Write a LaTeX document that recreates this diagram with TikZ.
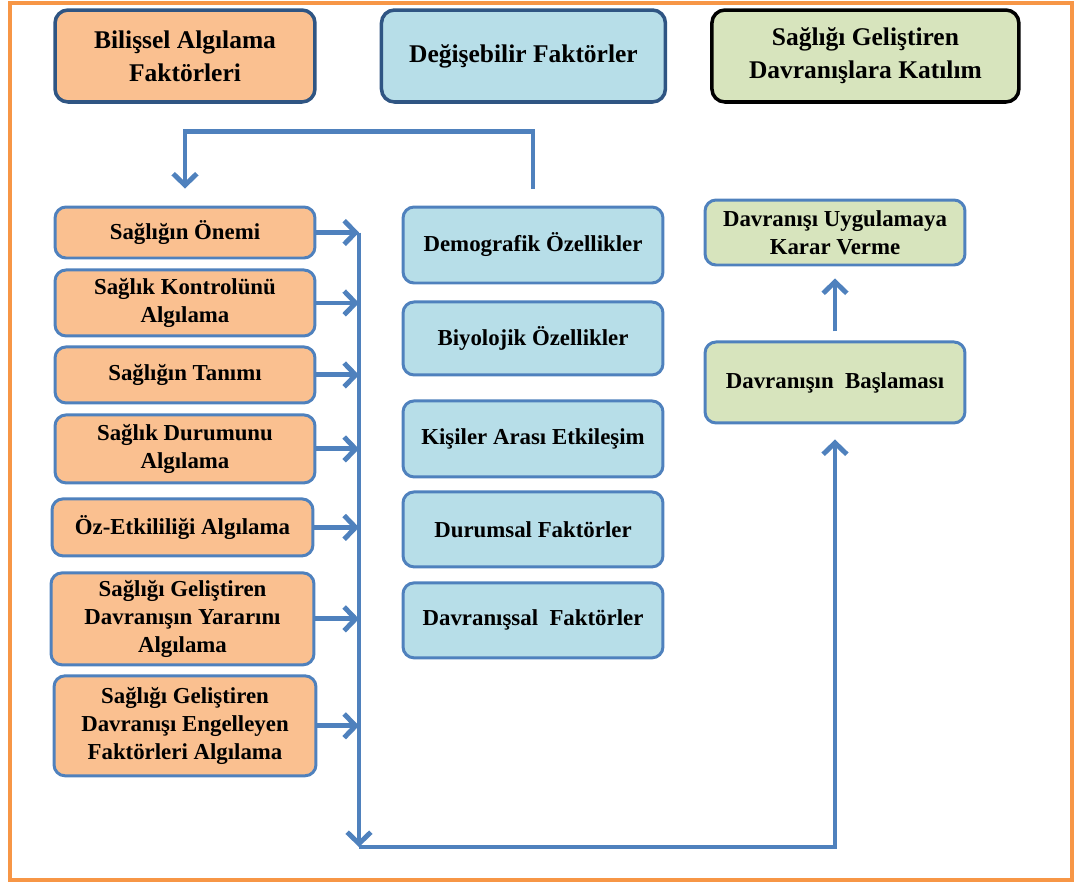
\documentclass[tikz,border=0pt]{standalone}
\usepackage{fontspec}
\setmainfont{Liberation Serif}
\usetikzlibrary{arrows.meta, positioning}

\definecolor{peach}{HTML}{FAC090}
\definecolor{aqua}{HTML}{B7DEE8}
\definecolor{sage}{HTML}{D7E4BD}
\definecolor{lineblue}{HTML}{4F81BD}
\definecolor{darkblue}{HTML}{2F5583}
\definecolor{framecol}{HTML}{F79646}

\begin{document}
\begin{tikzpicture}[x=0.02cm, y=-0.02cm,
    header/.style={rectangle, rounded corners=0.26cm, minimum height=1.84cm, text centered, align=center, line width=2pt, font=\bfseries\fontsize{14.5}{18.7}\selectfont},
    factor/.style={rectangle, rounded corners=0.22cm, minimum width=5.2cm, text centered, align=center, draw=lineblue, line width=1.7pt, font=\bfseries\fontsize{13}{15.9}\selectfont},
    arrow/.style={draw=lineblue, line width=2.8pt, -{Straight Barb[length=6.5pt, width=13.5pt]}}
    ]

    \useasboundingbox (0,0) rectangle (1082,883);
    \draw[framecol, line width=1.8pt] (10,3) rectangle (1072,880);

    % 标题
    \node (cognitive) [header, fill=peach, draw=darkblue, minimum width=5.2cm] at (185,56) {Bilişsel Algılama\\Faktörleri};
    \node (modifying) [header, fill=aqua, draw=darkblue, minimum width=5.68cm, right=1.26cm of cognitive] {Değişebilir Faktörler};
    \node (participation) [header, fill=sage, draw=black, minimum width=6.14cm, right=0.86cm of modifying] {Sağlığı Geliştiren\\Davranışlara Katılım};

    % 左列
    \node (importance) [factor, fill=peach, minimum height=1.02cm] at (185,232.5) {Sağlığın Önemi};
    \node (control) [factor, fill=peach, minimum height=1.32cm, below=0.18cm of importance] {Sağlık Kontrolünü\\Algılama};
    \node (definition) [factor, fill=peach, minimum height=1.12cm, below=0.16cm of control] {Sağlığın Tanımı};
    \node (status) [factor, fill=peach, minimum height=1.36cm, below=0.18cm of definition] {Sağlık Durumunu\\Algılama};
    \node (efficacy) [factor, fill=peach, minimum height=1.14cm, minimum width=5.22cm, below=0.26cm of status, xshift=-0.05cm] {Öz-Etkililiği Algılama};
    \node (benefits) [factor, fill=peach, minimum height=1.84cm, minimum width=5.26cm, below=0.28cm of efficacy] {Sağlığı Geliştiren\\Davranışın Yararını\\Algılama};
    \node (barriers) [factor, fill=peach, minimum height=2cm, minimum width=5.24cm, below=0.16cm of benefits, xshift=0.05cm] {Sağlığı Geliştiren\\Davranışı Engelleyen\\Faktörleri Algılama};

    % 中列
    \node (demographic) [factor, fill=aqua, minimum height=1.52cm] at (533,245) {Demografik Özellikler};
    \node (biological) [factor, fill=aqua, minimum height=1.46cm, below=0.32cm of demographic] {Biyolojik Özellikler};
    \node (interpersonal) [factor, fill=aqua, minimum height=1.52cm, below=0.46cm of biological] {Kişiler Arası Etkileşim};
    \node (situational) [factor, fill=aqua, minimum height=1.5cm, below=0.24cm of interpersonal] {Durumsal Faktörler};
    \node (behavioral) [factor, fill=aqua, minimum height=1.5cm, below=0.26cm of situational] {Davranışsal\ \ Faktörler};

    % 右列
    \node (decision) [factor, fill=sage, minimum height=1.3cm] at (835,232.5) {Davranışı Uygulamaya\\Karar Verme};
    \node (onset) [factor, fill=sage, minimum height=1.62cm, below=1.48cm of decision] {Davranışın\ \ Başlaması};

    % 连接线
    \coordinate (bustop) at (359,232.5);
    \coordinate (buscorner) at (359,847);

    \draw [arrow] ([yshift=0.34cm]demographic.north) -- ++(0,-57) -| ([yshift=0.34cm]importance.north);

    \foreach \n in {importance, control, definition, status, efficacy, benefits, barriers}
        \draw [arrow] (\n.east) -- (\n.east -| bustop);

    \draw [arrow] (bustop) -- (buscorner);
    \draw [arrow] (buscorner) -| ([yshift=-0.3cm]onset.south);
    \draw [arrow] ([yshift=0.18cm]onset.north) -- ([yshift=-0.24cm]decision.south);

\end{tikzpicture}
\end{document}
